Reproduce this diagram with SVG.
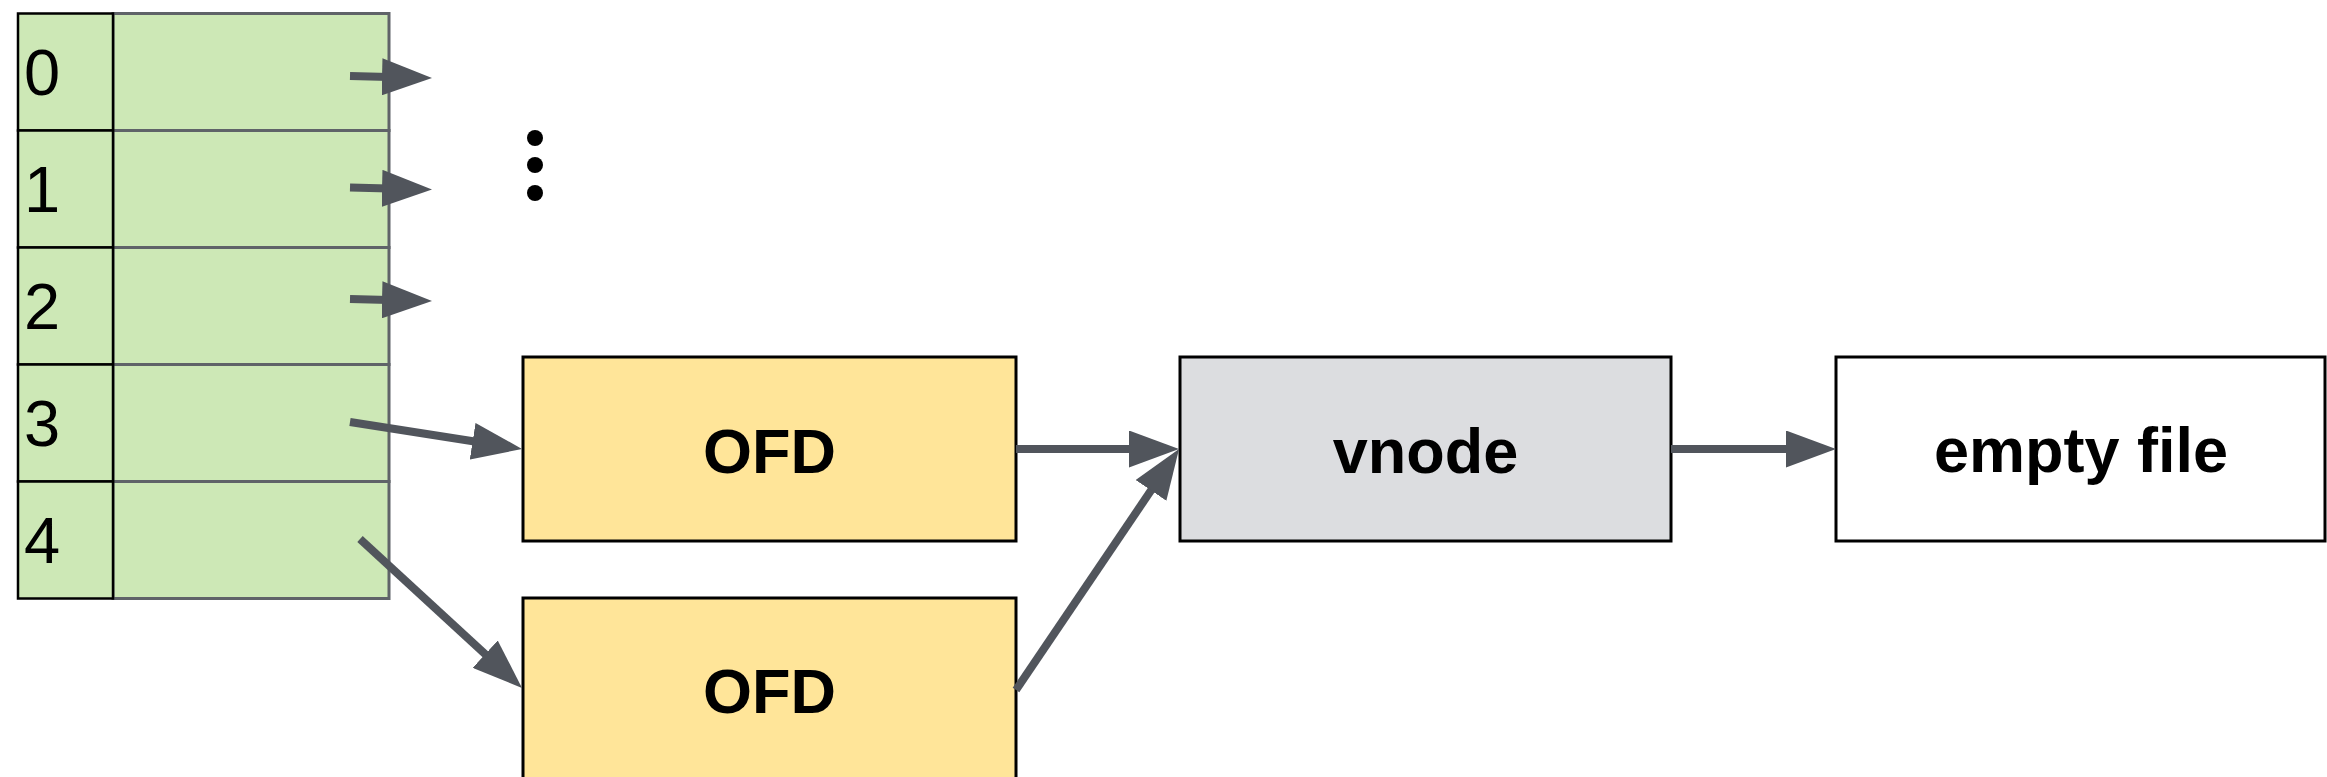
<svg xmlns="http://www.w3.org/2000/svg" width="2327" height="777" viewBox="0 0 2327 777">
  <style>
    .idx { fill: #cde8b6; stroke: #000000; stroke-width: 2.5; }
    .ptr { fill: #cde8b6; stroke: #5f6368; stroke-width: 3; }
    .digit { font-family: "Liberation Sans", Arial, sans-serif; font-size: 65px; fill: #000000; }
    .box { stroke: #000000; stroke-width: 3; }
    .ofd { fill: #ffe599; }
    .vnode { fill: #dcdde0; }
    .file { fill: #ffffff; }
    .label { font-family: "Liberation Sans", Arial, sans-serif; font-size: 63px; font-weight: bold; fill: #000000; text-anchor: middle; }
    .conn { stroke: #51555c; stroke-width: 8; fill: none; }
  </style>
  <defs>
    <marker id="arrow" markerUnits="userSpaceOnUse" markerWidth="50" markerHeight="37" viewBox="0 0 50 37" refX="36" refY="18.5" orient="auto">
      <path d="M0,0 L50,18.5 L0,37 Z" fill="#51555c"/>
    </marker>
  </defs>
  <rect width="2327" height="777" fill="#ffffff"/>

  <g id="fd-table">
    <rect class="ptr" x="113" y="13.5" width="276" height="117"/>
    <rect class="ptr" x="113" y="130.5" width="276" height="117"/>
    <rect class="ptr" x="113" y="247.5" width="276" height="117"/>
    <rect class="ptr" x="113" y="364.5" width="276" height="117"/>
    <rect class="ptr" x="113" y="481.5" width="276" height="117"/>
    <rect class="idx" x="18" y="13.5" width="95" height="117"/>
    <rect class="idx" x="18" y="130.5" width="95" height="117"/>
    <rect class="idx" x="18" y="247.5" width="95" height="117"/>
    <rect class="idx" x="18" y="364.5" width="95" height="117"/>
    <rect class="idx" x="18" y="481.5" width="95" height="117"/>
    <text class="digit" x="24" y="95">0</text>
    <text class="digit" x="24" y="212">1</text>
    <text class="digit" x="24" y="328.5">2</text>
    <text class="digit" x="24" y="446">3</text>
    <text class="digit" x="24" y="562.5">4</text>
  </g>

  <g id="ellipsis">
    <circle cx="535" cy="138" r="8" fill="#000000"/>
    <circle cx="535" cy="165" r="8" fill="#000000"/>
    <circle cx="535" cy="193" r="8" fill="#000000"/>
  </g>

  <g id="ofd1">
    <rect class="box ofd" x="523" y="357" width="493" height="184"/>
    <text class="label" x="769.5" y="473">OFD</text>
  </g>

  <g id="ofd2">
    <rect class="box ofd" x="523" y="598" width="493" height="184"/>
    <text class="label" x="769.5" y="713">OFD</text>
  </g>

  <g id="vnode">
    <rect class="box vnode" x="1180" y="357" width="491" height="184"/>
    <text class="label" x="1425.5" y="473">vnode</text>
  </g>

  <g id="empty-file">
    <rect class="box file" x="1836" y="357" width="489" height="184"/>
    <text class="label" x="2081" y="472">empty file</text>
  </g>

  <g id="connectors">
    <line class="conn" x1="350" y1="76" x2="418" y2="77.7" marker-end="url(#arrow)"/>
    <line class="conn" x1="350" y1="187.5" x2="418" y2="189.2" marker-end="url(#arrow)"/>
    <line class="conn" x1="350" y1="299" x2="418" y2="300.7" marker-end="url(#arrow)"/>
    <line class="conn" x1="350" y1="422" x2="508.2" y2="446.8" marker-end="url(#arrow)"/>
    <line class="conn" x1="360" y1="539" x2="511.7" y2="678.5" marker-end="url(#arrow)"/>
    <line class="conn" x1="1016" y1="449" x2="1165" y2="449" marker-end="url(#arrow)"/>
    <line class="conn" x1="1016" y1="690" x2="1171.2" y2="460.6" marker-end="url(#arrow)"/>
    <line class="conn" x1="1671" y1="449" x2="1822" y2="449" marker-end="url(#arrow)"/>
  </g>
</svg>
